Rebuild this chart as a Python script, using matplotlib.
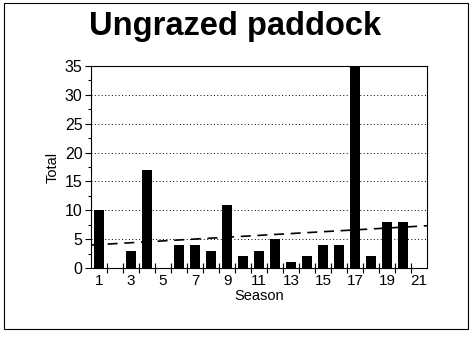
import matplotlib
matplotlib.use("Agg")
import matplotlib.pyplot as plt
from matplotlib.patches import Rectangle
from matplotlib.ticker import MultipleLocator, FixedLocator
import numpy as np

plt.rcParams['font.family'] = ['Liberation Sans', 'DejaVu Sans']

# Seasonal totals for the ungrazed paddock
seasons = list(range(1, 22))
totals = [10, 0, 3, 17, 0, 4, 4, 3, 11, 2, 3, 5, 1, 2, 4, 4, 35, 2, 8, 8, 0]
season_labels = [str(s) for s in range(1, 22, 2)]

# Linear trend across the plotted range
trend_x = [0.5, 21.5]
trend_y = [3.98, 7.32]

fig = plt.figure(figsize=(4.72, 3.37), dpi=100)
ax = fig.add_axes([91 / 472, 1 - 268 / 337, 336 / 472, 202 / 337])

ax.bar(seasons, totals, width=0.6, color='black', zorder=3)
ax.plot(trend_x, trend_y, color='black', lw=1.2, ls=(0, (6, 4)), zorder=4)

ax.set_xlim(0.5, 21.5)
ax.set_ylim(0, 35)

ax.yaxis.set_major_locator(MultipleLocator(5))
ax.yaxis.set_minor_locator(MultipleLocator(2.5))
ax.tick_params(axis='y', which='major', direction='out', length=4, width=0.8,
               labelsize=11.5, pad=2)
ax.tick_params(axis='y', which='minor', direction='out', length=2, width=0.8)

ax.xaxis.set_major_locator(FixedLocator(list(range(1, 22, 2))))
ax.set_xticklabels(season_labels)
ax.xaxis.set_minor_locator(FixedLocator(np.arange(1.5, 21.5, 1.0)))
ax.tick_params(axis='x', which='major', length=0, labelsize=11, pad=4)
ax.tick_params(axis='x', which='minor', direction='inout', length=7, width=0.8)

ax.grid(axis='y', which='major', color='black', ls=(0, (1, 2.5)), lw=0.7, zorder=1)

for side in ['left', 'bottom', 'right', 'top']:
    ax.spines[side].set_linewidth(0.8)
    ax.spines[side].set_color('black')

ax.set_xlabel('Season', fontsize=10.5, labelpad=1)
ax.set_ylabel('Total', fontsize=10.5, labelpad=4)

fig.text(235 / 472, 1 - 27 / 337, 'Ungrazed paddock', ha='center', va='center',
         fontsize=23.5, fontweight='bold')

fig.patches.append(Rectangle((4 / 472, 8 / 337), 464 / 472, 326 / 337,
                             transform=fig.transFigure, fill=False,
                             edgecolor='black', lw=0.8))

fig.savefig('out.png', dpi=100)
